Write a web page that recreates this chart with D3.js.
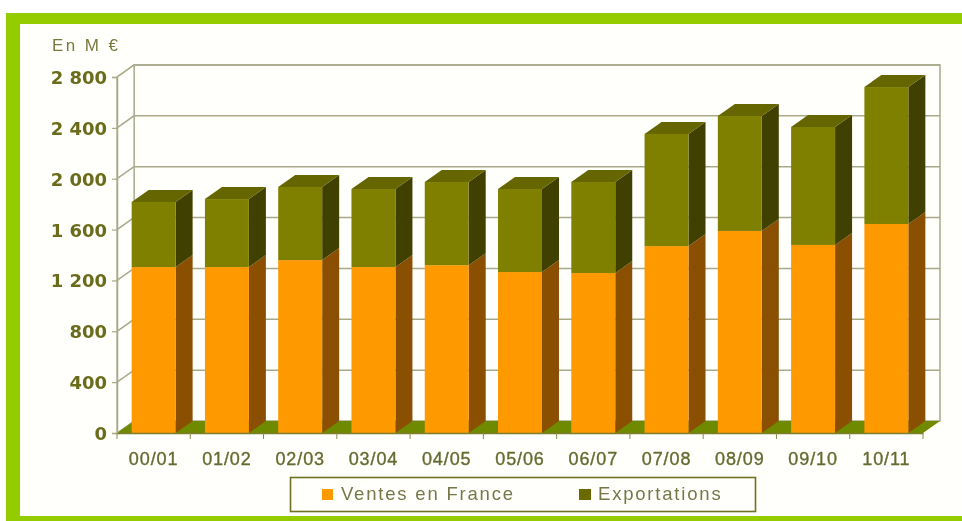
<!DOCTYPE html>
<html>
<head>
<meta charset="utf-8">
<script src="https://cdn.jsdelivr.net/npm/d3@7/dist/d3.min.js"></script>
<style>
html,body{margin:0;padding:0;background:#fff;overflow:hidden}
svg{display:block}
text{font-family:"Liberation Sans",Arial,sans-serif}
</style>
</head>
<body>
<div id="chart"></div>
<script>
const categories = ["00/01","01/02","02/03","03/04","04/05","05/06","06/07","07/08","08/09","09/10","10/11"];
const ventesFrance = [1305,1305,1360,1305,1320,1266,1258,1470,1589,1479,1644];
const exportations = [512,535,575,614,654,653,716,882,904,928,1077];
const yTicks = [0,400,800,1200,1600,2000,2400,2800];
const seriesNames = ["Ventes en France","Exportations"];
const seriesColors = [
  {front:"#ff9900",top:"#b56d00",side:"#8a4f06"},
  {front:"#808000",top:"#666600",side:"#404000"}
];

const W=962,H=521,dx=17,dy=-12;
const svg=d3.select("#chart").append("svg").attr("width",W).attr("height",H);
const defs=svg.append("defs");
defs.append("filter").attr("id","soft").attr("x","-5%").attr("y","-5%").attr("width","110%").attr("height","110%")
  .append("feGaussianBlur").attr("stdDeviation",0.6);

// frame
svg.append("rect").attr("x",6).attr("y",13).attr("width",W-6).attr("height",H-13).attr("fill","#94cc00");
svg.append("rect").attr("x",20).attr("y",24).attr("width",W-20).attr("height",492).attr("fill","#fffffb");

const g=svg.append("g").attr("filter","url(#soft)");
const x=d3.scaleBand().domain(categories).range([117,923]).paddingInner(0.4).paddingOuter(0.2);
const y=d3.scaleLinear().domain([0,2800]).range([433,77]);
const wall="#a9a98a";

// back wall
g.append("rect").attr("x",117+dx).attr("y",y(2800)+dy).attr("width",923-117)
  .attr("height",y(0)-y(2800)).attr("fill","#fffffc").attr("stroke",wall).attr("stroke-width",1.5);
// side wall + grid
g.append("path").attr("d",`M117,${y(0)}L${117+dx},${y(0)+dy}V${y(2800)+dy}L117,${y(2800)}Z`)
  .attr("fill","#fffffc").attr("stroke",wall).attr("stroke-width",1.2);
yTicks.filter(d=>d>0).forEach(t=>{
  g.append("path").attr("d",`M117,${y(t)}L${117+dx},${y(t)+dy}H${923+dx}`)
    .attr("fill","none").attr("stroke",wall).attr("stroke-width",1.5);
});
// floor
g.append("path").attr("d",`M117,${y(0)}L${117+dx},${y(0)+dy}H${923+dx}L923,${y(0)}Z`).attr("fill","#6f8a00");

// bars
const stack=categories.map((c,i)=>[
  {c,s:0,y0:0,y1:ventesFrance[i]},
  {c,s:1,y0:ventesFrance[i],y1:ventesFrance[i]+exportations[i]}
]);
const bars=g.selectAll("g.bar").data(stack).join("g").attr("class","bar");
const seg=bars.selectAll("g").data(d=>d).join("g");
seg.append("path").attr("fill",d=>seriesColors[d.s].side)
  .attr("d",d=>{const r=x(d.c)+x.bandwidth();return `M${r},${y(d.y0)}L${r+dx},${y(d.y0)+dy}V${y(d.y1)+dy}L${r},${y(d.y1)}Z`;});
seg.filter(d=>d.s===1).append("path").attr("fill",d=>seriesColors[d.s].top)
  .attr("d",d=>{const l=x(d.c),r=l+x.bandwidth(),t=y(d.y1);return `M${l},${t}L${l+dx},${t+dy}H${r+dx}L${r},${t}Z`;});
seg.append("rect").attr("fill",d=>seriesColors[d.s].front)
  .attr("x",d=>x(d.c)).attr("width",x.bandwidth())
  .attr("y",d=>y(d.y1)).attr("height",d=>y(d.y0)-y(d.y1));

// axes
const fmt=d=>d3.format(",")(d).replace(/,/g," ");
const ya=g.append("g").attr("transform","translate(117,0)")
  .call(d3.axisLeft(y).tickValues(yTicks).tickFormat(fmt).tickSize(5).tickPadding(5));
ya.select(".domain").attr("stroke",wall).attr("stroke-width",1.5);
ya.selectAll(".tick line").attr("stroke",wall).attr("stroke-width",1.2);
ya.selectAll("text").style("font-family","'DejaVu Sans'").attr("font-size",18).attr("font-weight","bold")
  .attr("fill","#6b6c1c").attr("dy","0.36em").attr("dx",0);

const xa=g.append("g").attr("transform",`translate(0,${y(0)})`)
  .call(d3.axisBottom(x).tickSize(0).tickPadding(19));
xa.select(".domain").attr("stroke","#7d7d2a").attr("stroke-width",1.3);
xa.selectAll("text").attr("font-size",18).attr("fill","#666a30").attr("letter-spacing",0.9)
  .attr("stroke","#666a30").attr("stroke-width",0.35);
const sep=d3.range(categories.length+1).map(i=>x.step()*i+117);
xa.selectAll("line.sep").data(sep).join("line").attr("class","sep")
  .attr("x1",d=>d).attr("x2",d=>d).attr("y1",0).attr("y2",6).attr("stroke","#8a8a50");

g.append("text").attr("x",52).attr("y",51).attr("font-size",17).attr("letter-spacing",2.4).attr("fill","#7a7a40").text("En M €");

// legend
g.append("rect").attr("x",290.5).attr("y",477.5).attr("width",465).attr("height",34)
  .attr("fill","#fffffb").attr("stroke","#6f7020").attr("stroke-width",1.6);
const legX=[322,579], legT=[341,598];
seriesNames.forEach((n,i)=>{
  g.append("rect").attr("x",legX[i]).attr("y",489).attr("width",i?12:11).attr("height",11).attr("fill",i?"#6b6b00":seriesColors[0].front);
  g.append("text").attr("x",legT[i]).attr("y",500).attr("font-size",18.5).attr("letter-spacing",1.8).attr("fill","#77774a").text(n);
});
</script>
</body>
</html>
